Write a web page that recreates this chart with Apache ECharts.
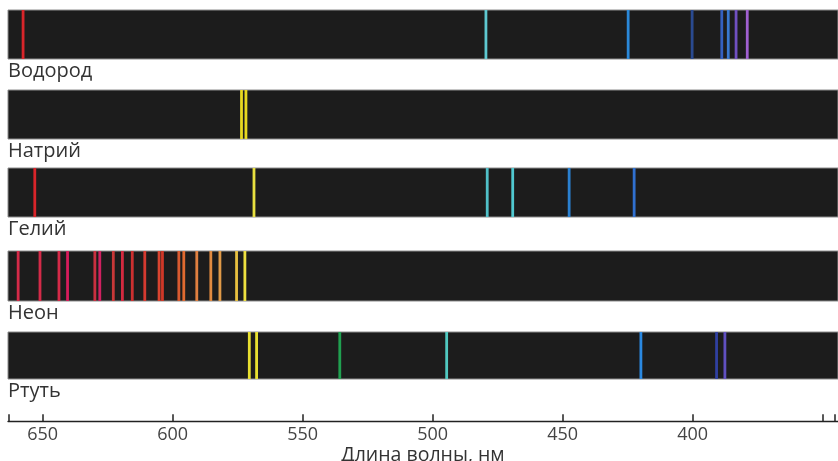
<!DOCTYPE html>
<html>
<head>
<meta charset="utf-8">
<script src="https://cdn.jsdelivr.net/npm/echarts@6/dist/echarts.min.js"></script>
<style>
html,body{margin:0;padding:0;background:#fff;}
#chart{width:838px;height:461px;}
</style>
</head>
<body>
<div id="chart"></div>
<script>
// ---- data ----
const rowNames = ['Водород', 'Натрий', 'Гелий', 'Неон', 'Ртуть'];

const hydrogenLines  = [657.5, 479.5, 424.8, 400.2, 388.8, 386.3, 383.3, 379.0];
const hydrogenColors = ['#d8252a', '#5ec8d0', '#2a88d8', '#2a4a90', '#3460c0', '#3878d0', '#7050c0', '#a060d0'];

const sodiumLines  = [573.5, 571.8];
const sodiumColors = ['#e8d820', '#e8d820'];

const heliumLines  = [653.0, 568.7, 479.0, 469.2, 447.5, 422.5];
const heliumColors = ['#d8252a', '#e8e040', '#50c0c8', '#50c8d0', '#2a80d0', '#3070d0'];

const neonLines  = [659.4, 651.0, 643.7, 640.4, 629.9, 628.0, 622.8, 619.3, 615.5, 610.7,
                    605.2, 603.9, 597.6, 595.7, 590.7, 585.3, 581.8, 575.4, 572.2];
const neonColors = ['#d42a48', '#d42a48', '#d42a48', '#d81c5c', '#c83040', '#d02060', '#c83838', '#d42a40', '#cc3030', '#d43a30',
                    '#d84430', '#d03828', '#d85a30', '#e06a30', '#e08040', '#e08a40', '#e09a48', '#e8c040', '#eee040'];

const mercuryLines  = [570.5, 567.7, 535.7, 494.6, 419.9, 390.8, 387.6];
const mercuryColors = ['#e8e030', '#e8e030', '#20a050', '#50c8c0', '#2a88e0', '#3040a0', '#6050c0'];

const tickLabels = [650, 600, 550, 500, 450, 400];
const tickMarks  = [663, 650, 600, 550, 500, 450, 400, 350, 345.3];
const axisTitle  = 'Длина волны, нм';
const axisMin = 344.1, axisMax = 663.3;

// ---- layout ----
const rowsLines  = [hydrogenLines, sodiumLines, heliumLines, neonLines, mercuryLines];
const rowsColors = [hydrogenColors, sodiumColors, heliumColors, neonColors, mercuryColors];
const rowTops    = [10, 90, 168, 251, 332];
const rowHeights = [49, 49, 49, 50, 47];
const FONT = '"Open Sans", "Noto Sans", sans-serif';

const grids = [], xAxes = [], yAxes = [], series = [], graphics = [];
rowsLines.forEach((lines, i) => {
  grids.push({left: 8, width: 830, top: rowTops[i], height: rowHeights[i],
    show: true, backgroundColor: '#1c1c1c', borderColor: '#8c8c8c', borderWidth: 1});
  xAxes.push({gridIndex: i, type: 'value', inverse: true, min: axisMin, max: axisMax, show: false});
  yAxes.push({gridIndex: i, type: 'value', min: 0, max: 1, show: false});
  series.push({
    type: 'custom', xAxisIndex: i, yAxisIndex: i, silent: true,
    encode: {x: 0, y: 1},
    data: lines.map((v, k) => ({value: [v, 0], itemStyle: {color: rowsColors[i][k]}})),
    renderItem: function (params, api) {
      const top = api.coord([api.value(0), 1]);
      const bot = api.coord([api.value(0), 0]);
      const w = 2.8;
      return {type: 'rect',
        shape: {x: top[0] - w / 2, y: top[1], width: w, height: bot[1] - top[1]},
        style: {fill: api.visual('color')}};
    }
  });
  graphics.push({type: 'text', left: 8, top: rowTops[i] + rowHeights[i] + 2,
    style: {text: rowNames[i], fill: '#333', font: '20px ' + FONT}});
});

// bottom axis
grids.push({left: 8, width: 830, top: 421, height: 1});
xAxes.push({gridIndex: 5, type: 'value', inverse: true, min: axisMin, max: axisMax, position: 'bottom',
  splitLine: {show: false},
  axisLine: {show: true, lineStyle: {color: '#222', width: 1.3}},
  axisTick: {show: true, inside: true, length: 7, customValues: tickMarks, lineStyle: {color: '#222', width: 1.5}},
  axisLabel: {show: true, customValues: tickLabels, margin: 5, color: '#444', fontSize: 18, fontFamily: FONT},
  name: axisTitle, nameLocation: 'middle', nameGap: 24,
  nameTextStyle: {color: '#333', fontSize: 19.5, fontFamily: FONT}
});
yAxes.push({gridIndex: 5, type: 'value', show: false});

const chart = echarts.init(document.getElementById('chart'), null, {renderer: 'canvas'});
chart.setOption({
  animation: false,
  backgroundColor: '#fff',
  grid: grids, xAxis: xAxes, yAxis: yAxes, series: series, graphic: graphics
});
</script>
</body>
</html>
